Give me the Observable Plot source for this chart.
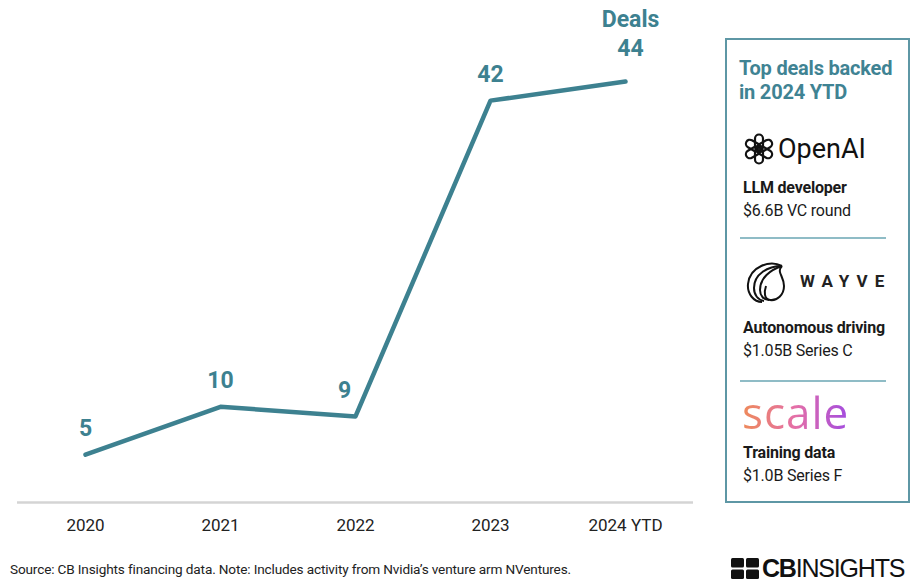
<!DOCTYPE html>
<html>
<head>
<meta charset="utf-8">
<script src="https://cdn.jsdelivr.net/npm/d3@7"></script>
<script src="https://cdn.jsdelivr.net/npm/@observablehq/plot@0.6"></script>
<style>
  html, body { margin: 0; padding: 0; background: #fff; }
  body { width: 912px; height: 581px; position: relative; overflow: hidden; font-family: Roboto, "Liberation Sans", sans-serif; }
  #chart { position: absolute; left: 0; top: 0; }
  #panel { position: absolute; left: 725px; top: 38px; width: 181px; height: 461px; border: 2px solid #5e97a5; box-sizing: content-box; }
  #panel .title { position: absolute; left: 12px; top: 16px; font-size: 20px; font-weight: 700; color: #3f8393; line-height: 24px; letter-spacing: -0.2px; white-space: nowrap; }
  #panel .logo { position: absolute; left: 15px; }
  #panel .desc { position: absolute; left: 16px; font-size: 16px; font-weight: 700; color: #1a1a1a; white-space: nowrap; letter-spacing: -0.2px; }
  #panel .amt { position: absolute; left: 16px; font-size: 16px; color: #1a1a1a; white-space: nowrap; letter-spacing: -0.2px; }
  #panel .rule { position: absolute; left: 13px; width: 146px; height: 0; border-top: 2px solid #8fbcc6; }
  #source { position: absolute; left: 10px; top: 561px; font-size: 13.6px; line-height: 17px; color: #222; font-family: "Roboto", sans-serif; letter-spacing: -0.15px; white-space: nowrap; }
  #cb { position: absolute; left: 731px; top: 556px; height: 24px; font-size: 25px; line-height: 24px; color: #111; font-family: "Liberation Sans", sans-serif; white-space: nowrap; letter-spacing: -1.2px; display: flex; align-items: center; }
</style>
</head>
<body>
<div id="chart"></div>
<div id="panel"></div>
<div id="source"></div>
<div id="cb"><svg width="30" height="21" style="margin-right:1px"><rect x="0" y="0" width="13" height="9.5" rx="1.5" fill="#111"/><rect x="15" y="0" width="13" height="9.5" rx="1.5" fill="#111"/><rect x="0" y="11.5" width="13" height="9.5" rx="1.5" fill="#111"/><rect x="15" y="11.5" width="13" height="9.5" rx="1.5" fill="#111"/></svg><span><b>CB</b>INSIGHTS</span></div>
<script>
// ---- data ----
const years = ["2020", "2021", "2022", "2023", "2024 YTD"];
const deals = [5, 10, 9, 42, 44];
const seriesName = "Deals";

const panelTitle = ["Top deals backed", "in 2024 YTD"];
const companies = ["OpenAI", "WAYVE", "scale"];
const descriptions = ["LLM developer", "Autonomous driving", "Training data"];
const amounts = ["$6.6B VC round", "$1.05B Series C", "$1.0B Series F"];
const sourceText = "Source: CB Insights financing data. Note: Includes activity from Nvidia\u2019s venture arm NVentures.";

const teal = "#3d8190";
const rows = years.map((y, i) => ({year: y, deals: deals[i]}));
const last = rows[rows.length - 1];

const chart = Plot.plot({
  width: 912,
  height: 545,
  marginLeft: 17,
  marginRight: 219,
  marginTop: 81,
  marginBottom: 43,
  style: {fontFamily: "Roboto, sans-serif", background: "transparent"},
  x: {type: "point", domain: years, padding: 0.5, label: null},
  y: {domain: [0, 44], axis: null},
  marks: [
    Plot.ruleY([0], {stroke: "#d4d4d4", strokeWidth: 2.5}),
    Plot.axisX({tickSize: 0, tickPadding: 16, fontSize: 17, color: "#222", label: null}),
    Plot.line(rows, {x: "year", y: "deals", stroke: teal, strokeWidth: 4.5, strokeLinejoin: "round", strokeLinecap: "round"}),
    Plot.text(rows.filter(d => d.year !== "2022" && d.year !== last.year), {x: "year", y: "deals", text: d => String(d.deals), dy: -26, fill: teal, fontSize: 23, fontWeight: 700}),
    Plot.text(rows.filter(d => d.year === "2022"), {x: "year", y: "deals", text: d => String(d.deals), dx: -11, dy: -26, fill: teal, fontSize: 23, fontWeight: 700}),
    Plot.text([last], {x: "year", y: "deals", text: d => String(d.deals), dx: 5, dy: -33, fill: teal, fontSize: 23, fontWeight: 700}),
    Plot.text([last], {x: "year", y: "deals", text: () => seriesName, dx: 5, dy: -62, fill: teal, fontSize: 23, fontWeight: 700})
  ]
});
document.getElementById("chart").appendChild(chart);

// ---- panel ----
const panel = document.getElementById("panel");
panel.innerHTML = `<div class="title">${panelTitle.join("<br>")}</div>`;

const logoTops = [92, 218, 348];
const descTops = [138, 278, 403];
const ruleTops = [197, 340];

const openaiIcon = `<svg width="34" height="34" viewBox="-17 -17 34 34" style="vertical-align:middle">` +
  [0, 60, 120, 180, 240, 300].map(a => `<rect x="-4" y="-14.5" width="8" height="16" rx="4" fill="none" stroke="#111" stroke-width="2.2" transform="rotate(${a})"/>`).join("") + `</svg>`;
const wayveIcon = `<svg width="46" height="46" viewBox="0 0 46 46" style="vertical-align:middle">
  <path d="M40 8 C 28 2, 8 8, 6 26 C 5 36, 12 44, 20 44" fill="none" stroke="#111" stroke-width="2"/>
  <path d="M40 8 C 26 8, 12 16, 12 30 C 12 37, 16 42, 22 43" fill="none" stroke="#111" stroke-width="2"/>
  <path d="M40 8 C 28 12, 18 20, 18 32 C 18 38, 22 42, 27 42" fill="none" stroke="#111" stroke-width="2"/>
  <path d="M40 8 C 34 14, 42 18, 42 28 C 42 37, 35 43, 28 42 C 22 41, 22 34, 24 28" fill="none" stroke="#111" stroke-width="2"/>
</svg>`;

const logoHtml = [
  `<span style="display:inline-flex;align-items:center;gap:2px;font-size:27px;color:#111;font-family:Roboto,sans-serif">${openaiIcon}<span>${companies[0]}</span></span>`,
  `<span style="display:inline-flex;align-items:center;gap:12px;font-size:17px;font-weight:700;letter-spacing:7px;color:#222">${wayveIcon}<span>${companies[1]}</span></span>`,
  `<span style="font-size:44px;font-family:'Open Sans',sans-serif;letter-spacing:1px;background:linear-gradient(90deg,#ee8a5a 0%,#e46fa8 50%,#a24be0 100%);-webkit-background-clip:text;background-clip:text;color:transparent;line-height:48px">${companies[2]}</span>`
];

companies.forEach((c, i) => {
  panel.insertAdjacentHTML("beforeend",
    `<div class="logo" style="top:${logoTops[i]}px">${logoHtml[i]}</div>` +
    `<div class="desc" style="top:${descTops[i]}px">${descriptions[i]}</div>` +
    `<div class="amt" style="top:${descTops[i] + 23}px">${amounts[i]}</div>`);
});
ruleTops.forEach(t => panel.insertAdjacentHTML("beforeend", `<div class="rule" style="top:${t}px"></div>`));

document.getElementById("source").textContent = sourceText;
</script>
</body>
</html>
